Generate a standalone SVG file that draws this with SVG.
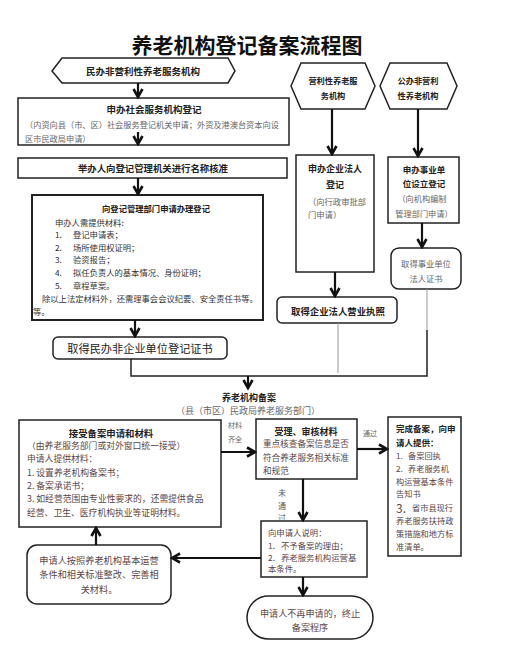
<svg xmlns="http://www.w3.org/2000/svg" width="512" height="657" viewBox="0 0 512 657">
<style>
text{font-family:"Noto Sans CJK SC","Liberation Serif",sans-serif;dominant-baseline:central;fill:#333}
.b{font-weight:bold;fill:#222}
.m{text-anchor:middle}
.g{fill:#666}
.r{fill:#5a4646}
.box{fill:#fff;stroke:#222;stroke-width:1.5}
.line{fill:none;stroke:#111;stroke-width:2.2}
.thin{fill:none;stroke:#999;stroke-width:1}
</style>
<defs>
<marker id="ah" viewBox="0 0 12 12" refX="10" refY="6" markerWidth="12" markerHeight="12" markerUnits="userSpaceOnUse" orient="auto">
<path d="M2,1.5 L10,6 L2,10.5" fill="none" stroke="#111" stroke-width="2.6"/>
</marker>
</defs>
<rect width="512" height="657" fill="#fff"/>
<text x="247" y="44" class="b m" font-size="21" style="fill:#111">养老机构登记备案流程图</text>

<g id="n1">
<polygon class="box" points="52,71 62,58 228,58 235,71 228,83 62,83"/>
<text x="143" y="71" class="b m" font-size="9.5">民办非营利性养老服务机构</text>
</g>
<g id="n2">
<rect class="box" x="18" y="98" width="271" height="47"/>
<text x="154" y="109" class="b m" font-size="9.5">申办社会服务机构登记</text>
<text x="25" y="124" class="g" font-size="8.2">（内资向县（市、区）社会服务登记机关申请；外资及港澳台资本向设</text>
<text x="25" y="138" class="g" font-size="8.2">区市民政局申请）</text>
</g>
<g id="n3">
<rect class="box" x="18" y="158" width="269" height="20"/>
<text x="153" y="168" class="b m" font-size="9.4">举办人向登记管理机关进行名称核准</text>
</g>
<g id="n4">
<rect class="box" x="32" y="195" width="231" height="125" style="stroke-width:2"/>
<text x="156" y="208" class="b m" font-size="8.3">向登记管理部门申请办理登记</text>
<text x="55" y="222" font-size="8.3">申办人需提供材料:</text>
<text x="55" y="234" font-size="8.3">1.</text><text x="73" y="234" font-size="8.3">登记申请表；</text>
<text x="55" y="247" font-size="8.3">2.</text><text x="73" y="247" font-size="8.3">场所使用权证明；</text>
<text x="55" y="259" font-size="8.3">3.</text><text x="73" y="259" font-size="8.3">验资报告；</text>
<text x="55" y="272" font-size="8.3">4.</text><text x="73" y="272" font-size="8.3">拟任负责人的基本情况、身份证明；</text>
<text x="55" y="285" font-size="8.3">5.</text><text x="73" y="285" font-size="8.3">章程草案。</text>
<text x="42" y="298" font-size="8.3">除以上法定材料外，还需理事会会议纪要、安全责任书等。</text>
<text x="33" y="311" font-size="8.3">等。</text>
</g>
<g id="n5">
<rect class="box" x="53" y="337" width="174" height="22" rx="5"/>
<text x="140" y="348" class="m" font-size="11.2" style="fill:#222">取得民办非企业单位登记证书</text>
</g>

<g id="n6">
<polygon class="box" points="291,86 301,63 365,63 375,86 365,109 301,109"/>
<text x="333" y="80" class="b m" font-size="8.2">营利性养老服</text>
<text x="333" y="95" class="b m" font-size="8.2">务机构</text>
</g>
<g id="n7">
<polygon class="box" points="380,86 390,63 447,63 457,86 447,109 390,109"/>
<text x="418" y="80" class="b m" font-size="8.2">公办非营利</text>
<text x="418" y="95" class="b m" font-size="8.2">性养老机构</text>
</g>
<g id="n8">
<rect class="box" x="296" y="155" width="78" height="117"/>
<text x="335" y="168" class="b m" font-size="9">申办企业法人</text>
<text x="335" y="184" class="b m" font-size="9">登记</text>
<text x="337" y="201" class="g m" font-size="8.3">（向行政审批部</text>
<text x="308" y="214" class="g" font-size="8.3">门申请）</text>
</g>
<g id="n9">
<rect class="box" x="388" y="157" width="71" height="66"/>
<text x="424" y="169" class="b m" font-size="8.5">申办事业单</text>
<text x="424" y="183" class="b m" font-size="8.5">位设立登记</text>
<text x="422" y="198" class="g m" font-size="8.2">（向机构编制</text>
<text x="424" y="213" class="g m" font-size="8.2">管理部门申请）</text>
</g>
<g id="n10">
<rect class="box" x="391" y="248" width="70" height="41" rx="8"/>
<text x="426" y="263" class="g m" font-size="8.3">取得事业单位</text>
<text x="426" y="278" class="g m" font-size="8.3">法人证书</text>
</g>
<g id="n11">
<rect class="box" x="277" y="297" width="120" height="26" rx="5"/>
<text x="338" y="311" class="b m" font-size="9.4">取得企业法人营业执照</text>
</g>

<g id="n12">
<text x="249" y="397" class="b m" font-size="9">养老机构备案</text>
<text x="248" y="410" class="g m" font-size="9">（县（市区）民政局养老服务部门）</text>
</g>
<g id="n13">
<rect class="box" x="19" y="420" width="202" height="107"/>
<text x="111" y="433" class="b m" font-size="9.4">接受备案申请和材料</text>
<text x="27" y="445" class="r" font-size="8.8">（由养老服务部门或对外窗口统一接受）</text>
<text x="27" y="458" class="r" font-size="8.8">申请人提供材料：</text>
<text x="27" y="472" class="r" font-size="8.8">1. 设置养老机构备案书；</text>
<text x="27" y="485" class="r" font-size="8.8">2. 备案承诺书；</text>
<text x="27" y="498" class="r" font-size="8.8">3. 如经营范围由专业性要求的，还需提供食品</text>
<text x="27" y="512" class="r" font-size="8.8">经营、卫生、医疗机构执业等证明材料。</text>
</g>
<g id="n14">
<rect class="box" x="256" y="419" width="101" height="60"/>
<text x="306" y="431" class="b m" font-size="9">受理、审核材料</text>
<text x="263" y="443" class="r" font-size="8.6">重点核查备案信息是否</text>
<text x="263" y="457" class="r" font-size="8.6">符合养老服务相关标准</text>
<text x="263" y="470" class="r" font-size="8.6">和规范</text>
</g>
<g id="n15">
<rect class="box" x="388" y="417" width="73" height="139"/>
<text x="396" y="428" class="b" font-size="8.5">完成备案，向申</text>
<text x="396" y="442" class="b" font-size="8.5">请人提供：</text>
<text x="396" y="455" class="r" font-size="8.2">1.</text><text x="408" y="455" class="r" font-size="8.2">备案回执</text>
<text x="396" y="468" class="r" font-size="8.2">2.</text><text x="408" y="468" class="r" font-size="8.2">养老服务机</text>
<text x="396" y="481" class="r" font-size="8.2">构运营基本条件</text>
<text x="396" y="493" class="r" font-size="8.2">告知书</text>
<text x="396" y="507" class="r" font-size="12">3.</text><text x="412" y="507" class="r" font-size="8.2">省市县现行</text>
<text x="396" y="520" class="r" font-size="8.2">养老服务扶持政</text>
<text x="396" y="533" class="r" font-size="8.2">策措施和地方标</text>
<text x="396" y="546" class="r" font-size="8.2">准清单。</text>
</g>
<g id="n16">
<rect class="box" x="261" y="521" width="106" height="56"/>
<text x="268" y="532" class="r" font-size="8.4">向申请人说明：</text>
<text x="268" y="545" class="r" font-size="8.4">1.</text><text x="281" y="545" class="r" font-size="8.4">不予备案的理由；</text>
<text x="268" y="557" class="r" font-size="8.4">2.</text><text x="281" y="557" class="r" font-size="8.4">养老服务机构运营基</text>
<text x="268" y="568" class="r" font-size="8.4">本条件。</text>
</g>
<g id="n17">
<rect class="box" x="27" y="545" width="144" height="59" rx="10"/>
<text x="99" y="560" class="r m" font-size="9.2">申请人按照养老机构基本运营</text>
<text x="99" y="574" class="r m" font-size="9.2">条件和相关标准整改、完善相</text>
<text x="99" y="589" class="r m" font-size="9.2">关材料。</text>
</g>
<g id="n18">
<rect class="box" x="247" y="596" width="126" height="43" rx="21.5"/>
<text x="310" y="613" class="r m" font-size="9.1">申请人不再申请的，终止</text>
<text x="310" y="627" class="r m" font-size="9.1">备案程序</text>
</g>

<g id="connectors">
<line class="line" x1="138" y1="83" x2="138" y2="97" marker-end="url(#ah)"/>
<line class="line" x1="138" y1="132" x2="138" y2="144" marker-end="url(#ah)"/>
<line class="line" x1="138" y1="178" x2="138" y2="194" marker-end="url(#ah)"/>
<line class="line" x1="135" y1="320" x2="135" y2="336" marker-end="url(#ah)"/>
<line class="line" x1="332" y1="109" x2="332" y2="154" marker-end="url(#ah)"/>
<line class="line" x1="418" y1="109" x2="418" y2="156" marker-end="url(#ah)"/>
<line class="line" x1="422" y1="223" x2="422" y2="247" marker-end="url(#ah)"/>
<line class="line" x1="335" y1="272" x2="335" y2="296" marker-end="url(#ah)"/>
<line class="thin" x1="338" y1="323" x2="338" y2="373"/>
<line class="thin" x1="427" y1="289" x2="427" y2="330"/>
<polyline fill="none" stroke="#222" stroke-width="1.5" points="131,359 131,376 427,376 427,330"/>
<line class="line" x1="248" y1="376" x2="248" y2="388" marker-end="url(#ah)"/>
<line class="line" x1="221" y1="452" x2="255" y2="452" marker-end="url(#ah)"/>
<text x="228" y="425" class="g" font-size="7">材料</text>
<text x="228" y="439" class="g" font-size="7">齐全</text>
<line class="line" x1="357" y1="449" x2="387" y2="449" marker-end="url(#ah)"/>
<text x="363" y="433" class="g" font-size="7">通过</text>
<line class="line" x1="303" y1="479" x2="303" y2="520" marker-end="url(#ah)"/>
<text x="282" y="492" class="m" font-size="8" style="fill:#555">未</text>
<text x="282" y="505" class="m" font-size="8" style="fill:#555">通</text>
<text x="282" y="517" class="m" font-size="8" style="fill:#555">过</text>
<line class="line" x1="261" y1="558" x2="172" y2="558" marker-end="url(#ah)"/>
<line class="line" x1="96" y1="545" x2="96" y2="528" marker-end="url(#ah)"/>
<line class="line" x1="303" y1="577" x2="303" y2="595" marker-end="url(#ah)"/>
</g>
</svg>
